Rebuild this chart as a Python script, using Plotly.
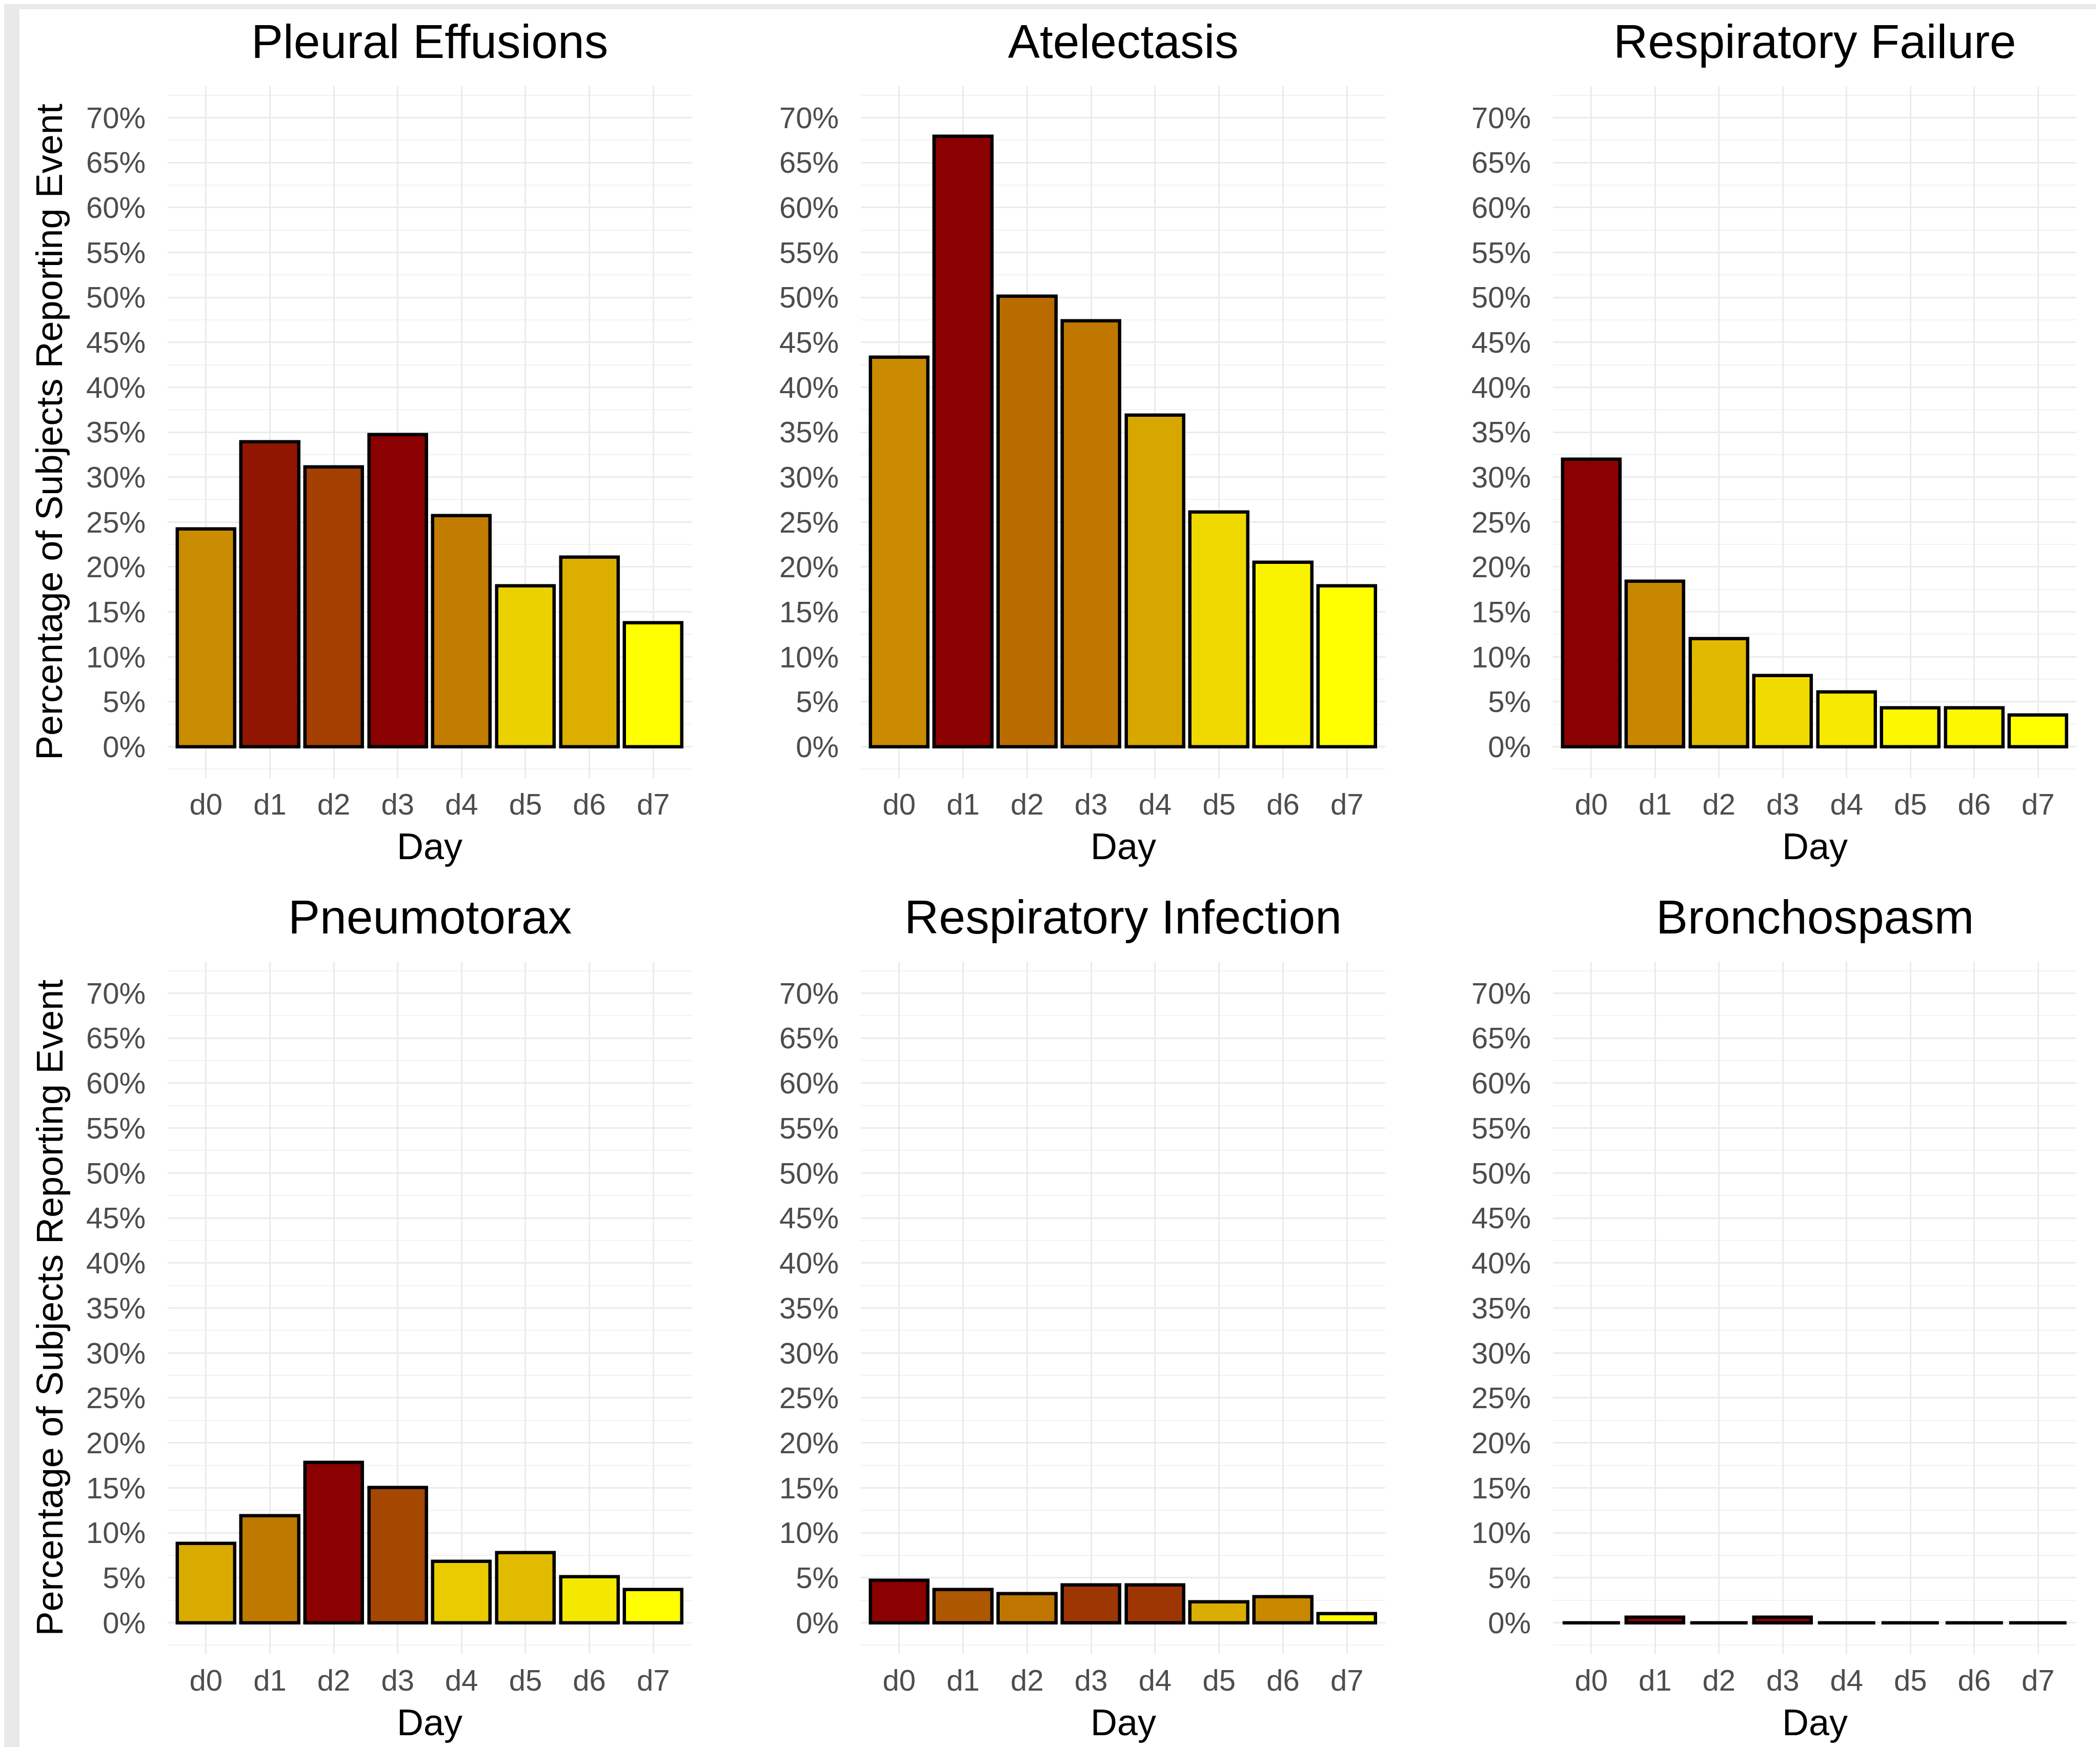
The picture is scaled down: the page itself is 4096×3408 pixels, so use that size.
import plotly.graph_objects as go

# ---------------- data ----------------
days = ["d0", "d1", "d2", "d3", "d4", "d5", "d6", "d7"]
panel_titles = ["Pleural Effusions", "Atelectasis", "Respiratory Failure",
                "Pneumotorax", "Respiratory Infection", "Bronchospasm"]
pleural_effusions = [24.2, 33.9, 31.1, 34.7, 25.7, 17.9, 21.1, 13.8]
atelectasis = [43.3, 67.9, 50.1, 47.4, 36.9, 26.1, 20.5, 17.9]
respiratory_failure = [32.0, 18.4, 12.0, 7.9, 6.1, 4.3, 4.3, 3.5]
pneumotorax = [8.8, 11.9, 17.8, 15.0, 6.8, 7.8, 5.1, 3.7]
respiratory_infection = [4.7, 3.7, 3.2, 4.2, 4.2, 2.3, 2.9, 1.0]
bronchospasm = [0.0, 0.6, 0.0, 0.6, 0.0, 0.0, 0.0, 0.0]
y_ticks = [0, 5, 10, 15, 20, 25, 30, 35, 40, 45, 50, 55, 60, 65, 70]
y_tick_labels = [f"{v}%" for v in y_ticks]
x_title = "Day"
y_title = "Percentage of Subjects Reporting Event"

series = [pleural_effusions, atelectasis, respiratory_failure,
          pneumotorax, respiratory_infection, bronchospasm]

# ---------------- colour gradient (Lab interpolation, like ggplot) ----------------
LOW = (255, 255, 0)     # yellow
HIGH = (139, 0, 0)      # darkred
WN = (0.95047, 1.0, 1.08883)


def _lin(c):
    c = c / 255.0
    return c / 12.92 if c <= 0.04045 else ((c + 0.055) / 1.055) ** 2.4


def _delin(c):
    v = 12.92 * c if c <= 0.0031308 else 1.055 * (c ** (1 / 2.4)) - 0.055
    return max(0, min(255, round(v * 255)))


def _f(t):
    d = 6 / 29
    return t ** (1 / 3) if t > d ** 3 else t / (3 * d * d) + 4 / 29


def _finv(t):
    d = 6 / 29
    return t ** 3 if t > d else 3 * d * d * (t - 4 / 29)


def rgb2lab(rgb):
    r, g, b = (_lin(c) for c in rgb)
    x = 0.4124564 * r + 0.3575761 * g + 0.1804375 * b
    y = 0.2126729 * r + 0.7151522 * g + 0.0721750 * b
    z = 0.0193339 * r + 0.1191920 * g + 0.9503041 * b
    fx, fy, fz = _f(x / WN[0]), _f(y / WN[1]), _f(z / WN[2])
    return (116 * fy - 16, 500 * (fx - fy), 200 * (fy - fz))


def lab2rgb(lab):
    L, a, b = lab
    fy = (L + 16) / 116
    fx = fy + a / 500
    fz = fy - b / 200
    x, y, z = WN[0] * _finv(fx), WN[1] * _finv(fy), WN[2] * _finv(fz)
    r = 3.2404542 * x - 1.5371385 * y - 0.4985314 * z
    g = -0.9692660 * x + 1.8760108 * y + 0.0415560 * z
    bb = 0.0556434 * x - 0.2040259 * y + 1.0572252 * z
    return tuple(_delin(max(0.0, c)) for c in (r, g, bb))


LAB_LOW, LAB_HIGH = rgb2lab(LOW), rgb2lab(HIGH)


def fill_colors(vals):
    lo, hi = min(vals), max(vals)
    out = []
    for v in vals:
        t = 0.0 if hi == lo else (v - lo) / (hi - lo)
        lab = tuple(LAB_LOW[i] + t * (LAB_HIGH[i] - LAB_LOW[i]) for i in range(3))
        r, g, b = lab2rgb(lab)
        out.append(f"rgb({r},{g},{b})")
    return out


# ---------------- layout geometry (px in 4096x3408 window) ----------------
W, H = 4096, 3408
col_px = [(319, 1341), (1671, 2694), (3021, 4042)]
row_px = [(160, 1510), (1868, 3219)]

FONT = "Liberation Sans, Arial, Helvetica, sans-serif"
fig = go.Figure()
layout = dict(
    width=W, height=H,
    margin=dict(l=0, r=0, t=0, b=0),
    paper_bgcolor="#E9E9E9",
    plot_bgcolor="rgba(0,0,0,0)",
    showlegend=False,
    font=dict(family=FONT, color="#4D4D4D"),
    bargap=0,
)
annotations = []

for i, (title, vals) in enumerate(zip(panel_titles, series)):
    r, c = divmod(i, 3)
    k = "" if i == 0 else str(i + 1)
    x0, x1 = col_px[c]
    y0, y1 = row_px[r]
    fig.add_trace(go.Bar(
        x=days, y=vals, width=0.9,
        marker=dict(color=fill_colors(vals), line=dict(color="black", width=6.5)),
        xaxis="x" + k, yaxis="y" + k,
    ))
    layout["xaxis" + k] = dict(
        domain=[x0 / W, x1 / W], anchor="y" + k,
        type="category", range=[-0.6, 7.6],
        showgrid=True, gridcolor="#EBEBEB", gridwidth=2.5,
        zeroline=False, showline=False, ticks="",
        tickfont=dict(size=58, color="#4D4D4D", family=FONT),
        ticklabelstandoff=12, fixedrange=True,
    )
    layout["yaxis" + k] = dict(
        domain=[1 - y1 / H, 1 - y0 / H], anchor="x" + k,
        range=[-3.5, 73.5], tickmode="array", tickvals=y_ticks, ticktext=y_tick_labels,
        showgrid=True, gridcolor="#EBEBEB", gridwidth=3,
        minor=dict(tickmode="linear", tick0=0, dtick=2.5, showgrid=True,
                   gridcolor="#F2F2F2", gridwidth=2),
        zeroline=False, showline=False, ticks="",
        tickfont=dict(size=58, color="#4D4D4D", family=FONT),
        ticklabelstandoff=42, fixedrange=True,
    )
    xc = (x0 + x1) / 2 / W
    annotations.append(dict(
        text=title, x=xc, y=1 - (y0 - 87) / H, xref="paper", yref="paper",
        xanchor="center", yanchor="middle", showarrow=False,
        font=dict(size=93, color="black", family=FONT),
    ))
    annotations.append(dict(
        text=x_title, x=xc, y=1 - (y1 + 133) / H, xref="paper", yref="paper",
        xanchor="center", yanchor="middle", showarrow=False,
        font=dict(size=72, color="black", family=FONT),
    ))
    if c == 0:
        annotations.append(dict(
            text=y_title, x=88 / W, y=1 - (y0 + y1) / 2 / H, xref="paper", yref="paper",
            xanchor="center", yanchor="middle", showarrow=False, textangle=-90,
            font=dict(size=72, color="black", family=FONT),
        ))

layout["annotations"] = annotations
layout["shapes"] = [dict(
    type="rect", xref="paper", yref="paper",
    x0=30 / W, x1=(W - 15) / W, y0=0, y1=1 - 10 / H,
    fillcolor="white", line=dict(width=0), layer="below",
)]
fig.update_layout(**layout)
fig.write_html("out.html")
